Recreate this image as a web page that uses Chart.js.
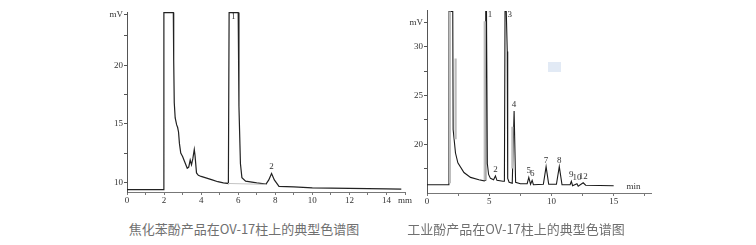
<!DOCTYPE html>
<html><head><meta charset="utf-8">
<script src="https://cdn.jsdelivr.net/npm/chart.js@4.4.1/dist/chart.umd.min.js"></script>
<style>
html,body{margin:0;padding:0;background:#fff;width:756px;height:245px;overflow:hidden;position:relative}
canvas{position:absolute;top:0}
.cap{position:absolute;top:220px;font:13px "Noto Sans CJK SC",sans-serif;color:#707070;white-space:nowrap;transform:translateX(-50%);line-height:18px}
.mark{position:absolute;left:548px;top:62px;width:13px;height:10px;background:#e2eaf5}
</style></head><body>
<canvas id="c1" width="330" height="215" style="left:90px"></canvas>
<canvas id="c2" width="270" height="215" style="left:390px"></canvas>
<div class="mark"></div>
<div class="cap" style="left:244px">焦化苯酚产品在OV-17柱上的典型色谱图</div>
<div class="cap" style="left:516px">工业酚产品在OV-17柱上的典型色谱图</div>
<script>
// ---- Chart 1: coking phenol (焦化苯酚) ----
const time1 = [0,1.97,1.99,2.5,2.52,2.55,2.6,2.68,2.73,2.78,2.83,2.9,3.0,3.1,3.25,3.33,3.41,3.48,3.55,3.63,3.67,3.75,3.85,4.0,4.3,4.6,4.9,5.2,5.47,5.51,6.0,6.04,6.12,6.2,6.4,7.0,7.5,7.65,7.8,7.95,8.2,9.0,10,12,14,14.8];
const signal1 = [9.38,9.38,24.5,24.5,20.4,16.8,15.5,14.9,14.7,14.3,13.3,12.5,12.2,11.8,11.2,11.3,11.9,11.5,12.0,12.8,12.3,10.8,10.6,10.5,10.35,10.2,10.05,9.95,9.9,24.5,24.5,16.5,11.6,10.4,10.1,9.95,9.85,10.2,10.75,10.2,9.65,9.6,9.52,9.48,9.43,9.42];
const baseTime1 = [5.45,7.5];
const baseSignal1 = [9.9,9.82];
const peakTimes1 = [5.75,7.8];
const peakTexts1 = ['1','2'];
const xTicks1 = [0,1,2,3,4,5,6,7,8,9,10,11,12,13,14,15];
const xTickLabels1 = ['0','','2','','4','','6','','8','','10','','12','','14','mm'];
const yTicks1 = [10,12.5,15,17.5,20,22.5,24.3];
const yTickLabels1 = ['10','','15','','20','','mV'];

// ---- Chart 2: industrial phenol (工业酚) ----
const time2 = [0,1.76,1.77,2.07,2.1,2.29,2.48,2.97,3.5,4.17,4.6,4.7,4.72,4.78,4.85,4.95,5.1,5.35,5.5,5.62,6.1,6.22,6.27,6.37,6.45,6.47,6.5,6.6,6.85,7.0,7.12,7.5,8.05,8.18,8.32,8.45,8.55,9.35,9.57,9.78,10.4,10.63,10.85,11.5,11.6,11.7,12.05,12.15,12.55,12.75,15.0];
const signal2 = [15.85,15.85,33.6,33.6,21.5,19.1,18.1,17.1,16.6,16.35,16.25,16.3,33.6,33.6,18.0,16.9,16.5,16.35,16.75,16.3,16.2,16.2,33.6,33.6,29.5,17.0,16.5,16.1,16.0,23.4,16.1,15.95,15.95,16.6,15.9,16.3,15.85,15.9,17.7,15.9,15.9,17.7,15.85,15.85,16.2,15.75,15.95,15.7,16.05,15.8,15.75];
const shadeTime2 = [1.84,1.84,1.9,2.3,2.3,2.4,4.64,4.64,4.7,6.86,6.86];
const shadeSignal2 = [16.0,33.6,null,28.8,20.5,null,32.6,16.3,null,21.8,17.5];
const peakTimes2 = [4.75,5.5,6.32,7.0,8.18,8.45,9.57,10.63,11.6,12.05,12.55];
const peakTexts2 = ['1','2','3','4','5','6','7','8','9','10','12'];
const xTicks2 = [0,2.5,5,7.5,10,12.5,15,17.5];
const xTickLabels2 = ['0','','5','','10','','15',''];
const yTicks2 = [17.5,20,22.5,25,27.5,30,32.5];
const yTickLabels2 = ['','20','','25','','30','mV'];
const unit2 = 'min';

const pts = (xs, ys) => xs.map((t,i)=>({x:t, y:ys[i]}));

function valueAt(data, t){
  for (let i=1;i<data.length;i++){
    const a=data[i-1], b=data[i];
    if (t>=a.x && t<=b.x){ return b.x===a.x ? Math.max(a.y,b.y) : a.y+(b.y-a.y)*(t-a.x)/(b.x-a.x); }
  }
  return data[data.length-1].y;
}

const peakLabels = {
  id:'peakLabels',
  afterDatasetsDraw(chart, args, o){
    const {ctx, chartArea, scales:{x,y}} = chart;
    const main = chart.data.datasets.find(d=>d.main).data;
    ctx.save();
    ctx.font = '9px "Liberation Serif", serif';
    ctx.fillStyle = '#333';
    ctx.textAlign = 'center';
    ctx.textBaseline = 'bottom';
    o.times.forEach((t,i)=>{
      let m = valueAt(main, t);
      main.forEach(p=>{ if (Math.abs(p.x-t)<=0.13 && p.y>m) m=p.y; });
      let px = x.getPixelForValue(t), py = y.getPixelForValue(m)-2;
      if (m >= y.max-0.3) { px += o.clipDx; py = chartArea.top+9; }
      ctx.fillText(o.texts[i], px, py);
    });
    if (o.unit) {
      ctx.fillText(o.unit, x.getPixelForValue(o.unitAt), chartArea.bottom-2);
    }
    ctx.restore();
  }
};

function makeScales(xmin,xmax,xt,xl,ymin,ymax,yt,yl,xh){
  const font = {family:'"Liberation Serif", serif', size:9};
  return {
    x:{type:'linear', min:xmin, max:xmax,
       afterBuildTicks:s=>{s.ticks = xt.map(v=>({value:v}));},
       afterFit:s=>{s.height = xh;},
       ticks:{autoSkip:false, maxRotation:0, padding:0, font, color:'#333', callback:(v,i)=>xl[i]},
       grid:{drawOnChartArea:false, drawTicks:true, tickLength:3, color:'#777'},
       border:{display:true, color:'#777', width:1}},
    y:{type:'linear', min:ymin, max:ymax,
       afterBuildTicks:s=>{s.ticks = yt.map(v=>({value:v}));},
       afterFit:s=>{s.width = 37;},
       ticks:{autoSkip:false, padding:1, font, color:'#333', callback:(v,i)=>yl[i]},
       grid:{drawOnChartArea:false, drawTicks:true, tickLength:3, color:'#555'},
       border:{display:true, color:'#555', width:1}}
  };
}

new Chart(document.getElementById('c1'), {
  type:'line',
  data:{datasets:[
    {data:pts(baseTime1,baseSignal1), borderColor:'#c4c4c4', borderWidth:1, pointRadius:0},
    {main:true, data:pts(time1,signal1), borderColor:'#222', borderWidth:1.2, pointRadius:0, tension:0}
  ]},
  options:{responsive:false, animation:false, devicePixelRatio:1,
    layout:{padding:{left:0, top:12, right:15, bottom:0}},
    scales:makeScales(0,15,xTicks1,xTickLabels1,9.17,24.55,yTicks1,yTickLabels1,23),
    plugins:{legend:{display:false}, tooltip:{enabled:false},
      peakLabels:{times:peakTimes1, texts:peakTexts1, clipDx:0}}
  },
  plugins:[peakLabels]
});

new Chart(document.getElementById('c2'), {
  type:'line',
  data:{datasets:[
    {data:pts(shadeTime2,shadeSignal2), borderColor:'#bdbdbd', borderWidth:2.2, pointRadius:0, spanGaps:false},
    {main:true, data:pts(time2,signal2), borderColor:'#1a1a1a', borderWidth:1.1, pointRadius:0, tension:0}
  ]},
  options:{responsive:false, animation:false, devicePixelRatio:1,
    layout:{padding:{left:0, top:10, right:9, bottom:0}},
    scales:makeScales(0,18,xTicks2,xTickLabels2,15,33.76,yTicks2,yTickLabels2,22),
    plugins:{legend:{display:false}, tooltip:{enabled:false},
      peakLabels:{times:peakTimes2, texts:peakTexts2, clipDx:4, unit:unit2, unitAt:16.6}}
  },
  plugins:[peakLabels]
});
</script>
</body></html>
